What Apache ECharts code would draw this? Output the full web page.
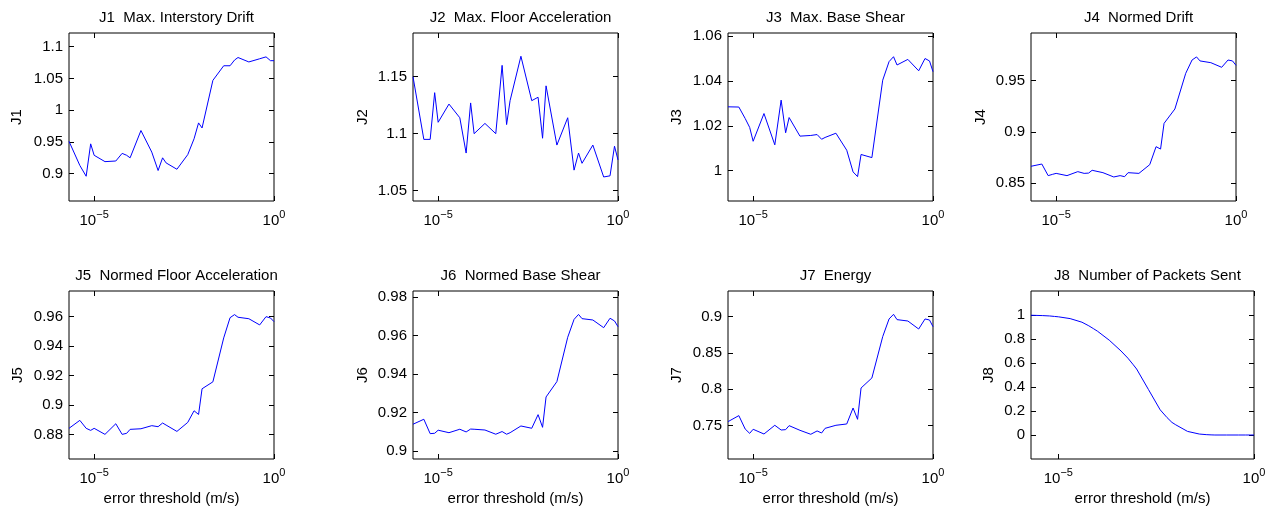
<!DOCTYPE html>
<html>
<head>
<meta charset="utf-8">
<script src="https://cdn.jsdelivr.net/npm/echarts@6/dist/echarts.min.js"></script>
<style>
html, body { margin: 0; padding: 0; background: #fff; }
#chart { width: 1273px; height: 506px; }
</style>
</head>
<body>
<div id="chart"></div>
<script>
// error thresholds (m/s), same for every panel
var thresholds = [2e-6, 4e-6, 6e-6, 8e-6,
  1e-5, 2e-5, 4e-5, 6e-5, 8e-5,
  1e-4, 2e-4, 4e-4, 6e-4, 8e-4,
  1e-3, 2e-3, 4e-3, 6e-3, 8e-3,
  1e-2, 2e-2, 4e-2, 6e-2, 8e-2,
  0.1, 0.2, 0.4, 0.6, 0.8, 1]
var xTicks = [1e-5, 1]

var j1 = [0.951, 0.913, 0.896, 0.947, 0.929, 0.919, 0.920, 0.932, 0.929, 0.925,
  0.968, 0.934, 0.905, 0.925, 0.917, 0.907, 0.930, 0.955, 0.980, 0.972,
  1.047, 1.070, 1.070, 1.079, 1.083, 1.076, 1.081, 1.084, 1.078, 1.078]
var j2 = [1.150, 1.095, 1.095, 1.136, 1.110, 1.126, 1.114, 1.083, 1.127, 1.100,
  1.109, 1.100, 1.160, 1.108, 1.129, 1.168, 1.129, 1.132, 1.096, 1.142,
  1.090, 1.114, 1.068, 1.083, 1.074, 1.090, 1.062, 1.063, 1.089, 1.077]
var j3 = [1.0285, 1.0284, 1.0233, 1.0193, 1.0131, 1.0255, 1.0115, 1.0315, 1.0169, 1.0237,
  1.0154, 1.0157, 1.0161, 1.0140, 1.0148, 1.0167, 1.0091, 0.9994, 0.9973, 1.0072,
  1.0058, 1.0404, 1.0487, 1.0509, 1.0472, 1.0497, 1.0446, 1.0501, 1.0490, 1.0442]
var j4 = [0.8666, 0.8688, 0.8575, 0.8588, 0.8597, 0.8575, 0.8614, 0.8597, 0.8600, 0.8627,
  0.8604, 0.8562, 0.8575, 0.8565, 0.8604, 0.8597, 0.8682, 0.8857, 0.8834, 0.9084,
  0.9224, 0.9571, 0.9701, 0.9731, 0.9692, 0.9675, 0.9630, 0.9701, 0.9692, 0.9649]
var j5 = [0.8843, 0.8897, 0.8843, 0.8829, 0.8843, 0.8802, 0.8874, 0.8802, 0.8809, 0.8836,
  0.8840, 0.8861, 0.8854, 0.8879, 0.8865, 0.8822, 0.8883, 0.8962, 0.8937, 0.9111,
  0.9158, 0.9456, 0.9593, 0.9614, 0.9596, 0.9586, 0.9544, 0.9600, 0.9591, 0.9566]
var j6 = [0.9139, 0.9165, 0.9090, 0.9092, 0.9108, 0.9095, 0.9113, 0.9099, 0.9114, 0.9113,
  0.9109, 0.9087, 0.9101, 0.9087, 0.9095, 0.9130, 0.9118, 0.9189, 0.9123, 0.9281,
  0.9361, 0.9592, 0.9685, 0.9711, 0.9689, 0.9682, 0.9642, 0.9691, 0.9677, 0.9647]
var j7 = [0.7555, 0.7638, 0.7454, 0.7394, 0.7450, 0.7385, 0.7505, 0.7440, 0.7445, 0.7500,
  0.7436, 0.7381, 0.7427, 0.7399, 0.7463, 0.7505, 0.7523, 0.7743, 0.7587, 0.8018,
  0.8156, 0.8725, 0.8968, 0.9032, 0.8959, 0.8940, 0.8830, 0.8968, 0.8954, 0.8862]
var j8 = [0.998, 0.995, 0.992, 0.988, 0.985, 0.970, 0.940, 0.910, 0.885, 0.865,
  0.790, 0.700, 0.640, 0.590, 0.550, 0.380, 0.210, 0.145, 0.105, 0.085,
  0.030, 0.008, 0.003, 0.001, 0, 0, 0, 0, 0, 0]

var titles = ['J1  Max. Interstory Drift', 'J2  Max. Floor Acceleration', 'J3  Max. Base Shear',
  'J4  Normed Drift', 'J5  Normed Floor Acceleration', 'J6  Normed Base Shear',
  'J7  Energy', 'J8  Number of Packets Sent']
var yNames = ['J1', 'J2', 'J3', 'J4', 'J5', 'J6', 'J7', 'J8']
var xName = 'error threshold (m/s)'

var j1Ticks = [0.9, 0.95, 1, 1.05, 1.1]
var j2Ticks = [1.05, 1.1, 1.15]
var j3Ticks = [1, 1.02, 1.04, 1.06]
var j4Ticks = [0.85, 0.9, 0.95]
var j5Ticks = [0.88, 0.9, 0.92, 0.94, 0.96]
var j6Ticks = [0.9, 0.92, 0.94, 0.96, 0.98]
var j7Ticks = [0.75, 0.8, 0.85, 0.9]
var j8Ticks = [0, 0.2, 0.4, 0.6, 0.8, 1]

var values = [j1, j2, j3, j4, j5, j6, j7, j8]
var yTicks = [j1Ticks, j2Ticks, j3Ticks, j4Ticks, j5Ticks, j6Ticks, j7Ticks, j8Ticks]

// panel boxes and y ranges
var panels = [
  { left: 69, top: 33, width: 205, min: 0.857, max: 1.1216, gap: 45 },
  { left: 413, top: 33, width: 205, min: 1.0409, max: 1.1884, gap: 43 },
  { left: 728, top: 33, width: 205, min: 0.9864, max: 1.0615, gap: 44 },
  { left: 1031, top: 33, width: 205, min: 0.8328, max: 0.9964, gap: 43 },
  { left: 69, top: 291, width: 205, min: 0.8635, max: 0.9774, gap: 44 },
  { left: 413, top: 291, width: 205, min: 0.8958, max: 0.9833, gap: 43 },
  { left: 728, top: 291, width: 205, min: 0.7041, max: 0.9353, gap: 44 },
  { left: 1031, top: 291, width: 223, min: -0.2, max: 1.2, gap: 35 }
]

var font = "'Liberation Sans', Arial, Helvetica, sans-serif"
var fs = 15

function powLabel(v) {
  var e = Math.round(Math.log10(v))
  return '{b|10}{s|' + String(e).replace('-', '\u2212') + '}'
}

var grid = [], xAxis = [], yAxis = [], series = [], title = []
panels.forEach(function(p, i) {
  var h = 168
  grid.push({
    left: p.left, top: p.top, width: p.width, height: h,
    show: true, borderColor: '#000', borderWidth: 1,
    containLabel: false, outerBoundsMode: 'none'
  })
  var tick = { inside: true, length: 5, lineStyle: { color: '#000', width: 1 } }
  xAxis.push({
    type: 'log', gridIndex: i, min: 2e-6, max: 1, position: 'bottom',
    axisLine: { show: false, onZero: false },
    axisTick: Object.assign({ customValues: xTicks }, tick),
    splitLine: { show: false },
    axisLabel: {
      customValues: xTicks, margin: 8, formatter: powLabel,
      rich: {
        b: { fontSize: fs, fontFamily: font, color: '#000', lineHeight: 19, verticalAlign: 'bottom' },
        s: { fontSize: 11, fontFamily: font, color: '#000', lineHeight: 11, verticalAlign: 'top' }
      }
    },
    name: i >= 4 ? xName : '', nameLocation: 'middle', nameGap: 32,
    nameTextStyle: { fontSize: fs, fontFamily: font, color: '#000' }
  })
  xAxis.push({
    type: 'log', gridIndex: i, min: 2e-6, max: 1, position: 'top',
    axisLine: { show: false, onZero: false },
    axisTick: Object.assign({ customValues: xTicks }, tick),
    splitLine: { show: false },
    axisLabel: { show: false }
  })
  yAxis.push({
    type: 'value', gridIndex: i, min: p.min, max: p.max, position: 'left',
    axisLine: { show: false, onZero: false },
    axisTick: Object.assign({ customValues: yTicks[i] }, tick),
    splitLine: { show: false },
    axisLabel: {
      customValues: yTicks[i], margin: 6,
      formatter: function(v) { return String(+v.toFixed(3)) },
      fontSize: fs, fontFamily: font, color: '#000'
    },
    name: yNames[i], nameLocation: 'middle', nameGap: p.gap, nameRotate: 90,
    nameTextStyle: { fontSize: fs, fontFamily: font, color: '#000' }
  })
  yAxis.push({
    type: 'value', gridIndex: i, min: p.min, max: p.max, position: 'right',
    axisLine: { show: false, onZero: false },
    axisTick: Object.assign({ customValues: yTicks[i] }, tick),
    splitLine: { show: false },
    axisLabel: { show: false }
  })
  series.push({
    type: 'line', xAxisIndex: 2 * i, yAxisIndex: 2 * i,
    data: thresholds.map(function(x, k) { return [x, values[i][k]] }),
    symbol: 'none',
    lineStyle: { color: '#0000ff', width: 1 }
  })
  title.push({
    text: titles[i], left: p.left + p.width / 2, top: i >= 4 ? 263 : 5, textAlign: 'center',
    textStyle: { fontSize: fs, fontWeight: 'normal', fontFamily: font, color: '#000' }
  })
})

var chart = echarts.init(document.getElementById('chart'))
chart.setOption({
  backgroundColor: '#fff',
  animation: false,
  title: title,
  grid: grid,
  xAxis: xAxis,
  yAxis: yAxis,
  series: series
})
</script>
</body>
</html>
